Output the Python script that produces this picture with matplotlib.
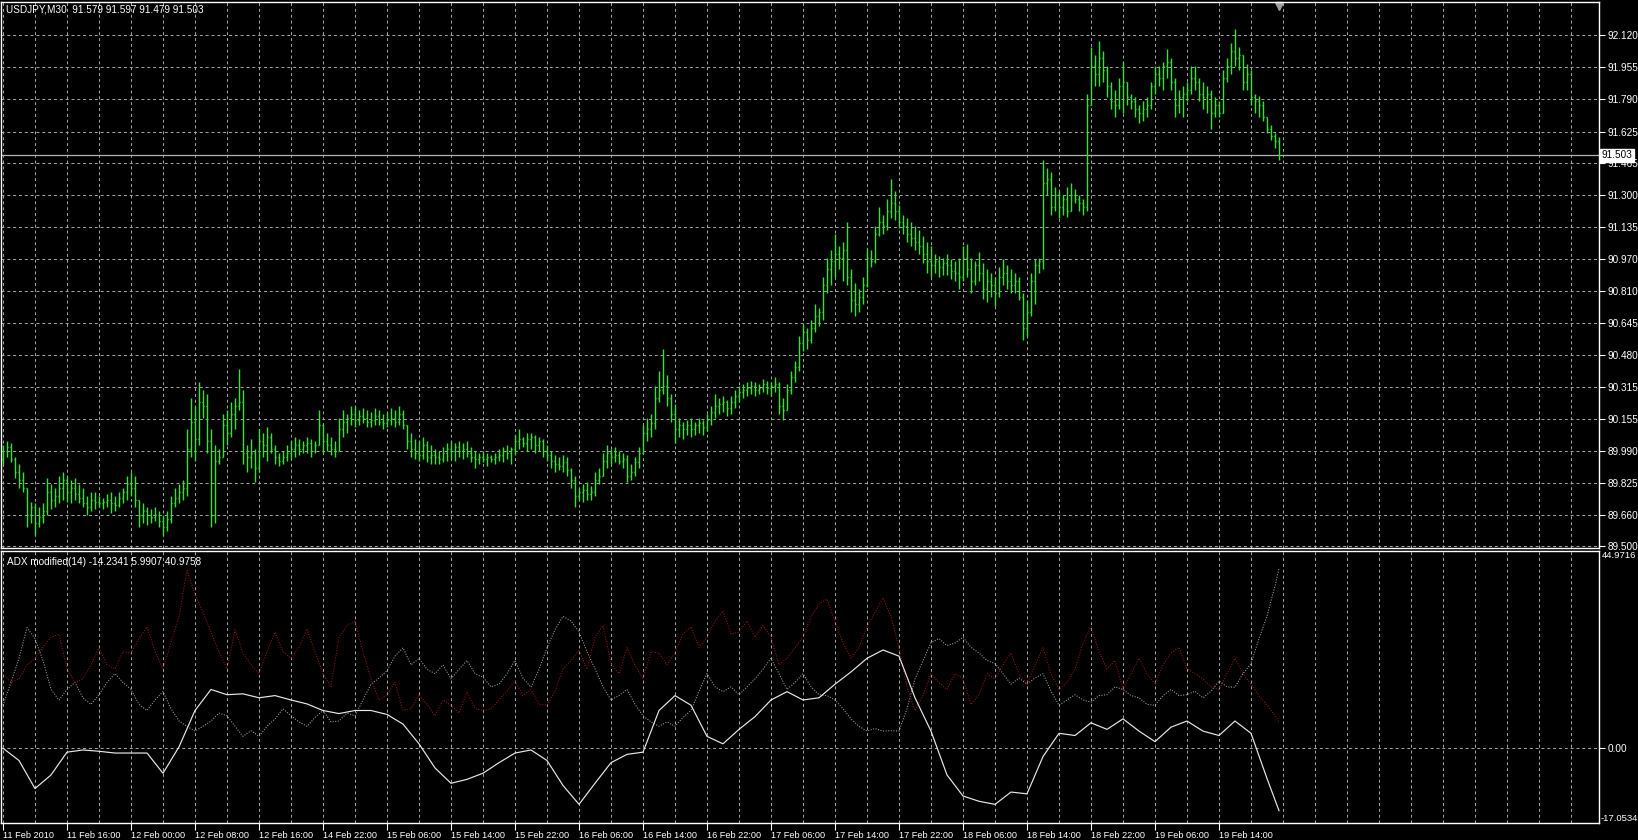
import numpy as np
import matplotlib.pyplot as plt
from matplotlib.transforms import blended_transform_factory

# USDJPY M30 bars (open of each bar = previous close)
first_open = 89.95
bar_high = [
    90.02, 90.04, 90.03, 89.96, 89.92, 89.88, 89.80, 89.73, 89.72, 89.70,
    89.72, 89.85, 89.82, 89.80, 89.86, 89.88, 89.86, 89.84, 89.85, 89.82,
    89.80, 89.76, 89.78, 89.78, 89.76, 89.75, 89.77, 89.78, 89.76, 89.78,
    89.80, 89.86, 89.88, 89.86, 89.74, 89.72, 89.70, 89.69, 89.70, 89.68,
    89.66, 89.68, 89.76, 89.80, 89.82, 89.84, 90.10, 90.26, 90.22, 90.34,
    90.30, 90.28, 90.10, 90.02, 90.00, 90.18, 90.20, 90.24, 90.26, 90.41,
    90.30, 90.02, 90.05, 90.00, 90.10, 90.08, 90.11, 90.08, 90.02, 89.98,
    89.99, 90.02, 90.04, 90.06, 90.05, 90.04, 90.06, 90.05, 90.04, 90.20,
    90.11, 90.08, 90.06, 90.04, 90.16, 90.20, 90.18, 90.22, 90.22, 90.20,
    90.21, 90.20, 90.19, 90.21, 90.20, 90.18, 90.19, 90.21, 90.20, 90.22,
    90.20, 90.12, 90.08, 90.05, 90.04, 90.06, 90.04, 90.02, 90.00, 89.99,
    90.01, 90.03, 90.04, 90.03, 90.04, 90.03, 90.04, 90.01, 89.99, 89.98,
    89.99, 89.98, 89.97, 89.98, 90.00, 90.01, 90.02, 90.01, 90.07, 90.10,
    90.06, 90.08, 90.08, 90.07, 90.06, 90.05, 90.02, 89.99, 89.97, 89.96,
    89.97, 89.96, 89.90, 89.86, 89.80, 89.82, 89.83, 89.81, 89.88, 89.90,
    89.98, 90.02, 90.00, 90.01, 89.99, 89.98, 89.97, 89.92, 89.96, 90.01,
    90.12, 90.16, 90.18, 90.32, 90.40, 90.51, 90.38, 90.28, 90.23, 90.16,
    90.14, 90.15, 90.16, 90.14, 90.16, 90.15, 90.18, 90.22, 90.28, 90.26,
    90.27, 90.25, 90.27, 90.30, 90.32, 90.33, 90.34, 90.35, 90.34, 90.33,
    90.36, 90.35, 90.34, 90.37, 90.34, 90.26, 90.33, 90.40, 90.45, 90.58,
    90.64, 90.62, 90.66, 90.74, 90.72, 90.88, 90.98, 91.02, 91.10, 91.04,
    91.06, 91.16, 90.92, 90.85, 90.82, 90.88, 91.03, 91.02, 91.14, 91.24,
    91.20, 91.28, 91.38, 91.32, 91.25, 91.20, 91.18, 91.16, 91.14, 91.12,
    91.09, 91.06, 91.04, 91.00, 90.99, 90.98, 91.00, 90.97, 90.96, 90.98,
    91.04, 91.05, 90.98, 90.96, 91.01, 90.95, 90.92, 90.90, 90.88, 90.93,
    90.97, 90.94, 90.92, 90.90, 90.88, 90.80, 90.76, 90.90, 90.97, 90.98,
    91.48, 91.44, 91.42, 91.34, 91.32, 91.30, 91.34, 91.36, 91.33, 91.30,
    91.28, 91.82, 92.06, 92.02, 92.09, 92.04, 91.96, 91.88, 91.84, 91.90,
    91.98, 91.86, 91.82, 91.80, 91.76, 91.78, 91.80, 91.88, 91.96, 91.96,
    91.98, 92.05, 92.00, 91.90, 91.84, 91.86, 91.88, 91.96, 91.96, 91.90,
    91.88, 91.86, 91.84, 91.80, 91.78, 91.94, 92.00, 92.08, 92.15, 92.06,
    92.02, 91.97, 91.94, 91.82, 91.81, 91.78, 91.70, 91.66, 91.62, 91.597,
]
bar_low = [
    89.92, 89.96, 89.93, 89.85, 89.80, 89.78, 89.60, 89.62, 89.56, 89.60,
    89.62, 89.66, 89.69, 89.70, 89.72, 89.74, 89.73, 89.72, 89.74, 89.72,
    89.70, 89.66, 89.68, 89.69, 89.70, 89.69, 89.70, 89.67, 89.68, 89.70,
    89.72, 89.74, 89.76, 89.70, 89.60, 89.62, 89.61, 89.62, 89.63, 89.60,
    89.56, 89.58, 89.62, 89.70, 89.72, 89.74, 89.76, 89.96, 89.94, 90.02,
    90.16, 89.98, 89.60, 89.62, 89.92, 89.96, 90.02, 90.06, 90.10, 90.20,
    89.92, 89.88, 89.90, 89.83, 89.88, 89.96, 89.94, 89.98, 89.92, 89.91,
    89.92, 89.94, 89.95, 89.96, 89.97, 89.98, 89.98, 89.96, 89.98, 90.02,
    89.98, 89.99, 89.97, 89.96, 90.00, 90.06, 90.08, 90.12, 90.11, 90.12,
    90.13, 90.11, 90.11, 90.12, 90.12, 90.10, 90.11, 90.12, 90.11, 90.12,
    90.10, 90.00, 89.96, 89.95, 89.94, 89.95, 89.93, 89.92, 89.92, 89.92,
    89.93, 89.94, 89.95, 89.94, 89.96, 89.95, 89.96, 89.93, 89.90, 89.92,
    89.93, 89.91, 89.93, 89.92, 89.94, 89.93, 89.95, 89.92, 89.97, 90.00,
    90.01, 89.99, 90.00, 89.98, 89.99, 89.96, 89.94, 89.90, 89.88, 89.89,
    89.88, 89.86, 89.80, 89.70, 89.74, 89.73, 89.74, 89.74, 89.76, 89.82,
    89.86, 89.90, 89.92, 89.93, 89.92, 89.90, 89.83, 89.84, 89.86, 89.90,
    89.98, 90.04, 90.06, 90.10, 90.24, 90.28, 90.22, 90.14, 90.03, 90.06,
    90.05, 90.07, 90.06, 90.07, 90.08, 90.07, 90.09, 90.12, 90.16, 90.18,
    90.19, 90.17, 90.18, 90.21, 90.24, 90.26, 90.27, 90.28, 90.27, 90.28,
    90.29, 90.28, 90.27, 90.29, 90.18, 90.15, 90.20, 90.28, 90.34, 90.40,
    90.50, 90.51, 90.54, 90.60, 90.63, 90.66, 90.80, 90.84, 90.88, 90.92,
    90.86, 90.84, 90.70, 90.68, 90.70, 90.74, 90.83, 90.93, 90.95, 91.09,
    91.10, 91.12, 91.18, 91.17, 91.13, 91.10, 91.06, 91.04, 91.02, 91.00,
    90.95, 90.90, 90.88, 90.90, 90.88, 90.89, 90.89, 90.87, 90.86, 90.82,
    90.86, 90.88, 90.80, 90.84, 90.86, 90.77, 90.75, 90.78, 90.73, 90.78,
    90.84, 90.82, 90.80, 90.80, 90.76, 90.56, 90.58, 90.68, 90.74, 90.90,
    90.92, 91.30, 91.20, 91.22, 91.18, 91.20, 91.19, 91.24, 91.26, 91.22,
    91.20, 91.22, 91.76, 91.86, 91.86, 91.88, 91.80, 91.74, 91.70, 91.74,
    91.72, 91.76, 91.74, 91.70, 91.67, 91.68, 91.70, 91.74, 91.82, 91.86,
    91.84, 91.90, 91.84, 91.70, 91.72, 91.70, 91.78, 91.82, 91.84, 91.78,
    91.74, 91.72, 91.64, 91.70, 91.70, 91.72, 91.88, 91.92, 91.96, 91.94,
    91.84, 91.84, 91.76, 91.72, 91.70, 91.68, 91.62, 91.58, 91.54, 91.479,
]
bar_close = [
    89.99, 90.01, 89.95, 89.88, 89.84, 89.80, 89.66, 89.70, 89.62, 89.65,
    89.68, 89.78, 89.74, 89.76, 89.80, 89.84, 89.78, 89.80, 89.77, 89.75,
    89.72, 89.70, 89.74, 89.73, 89.72, 89.73, 89.74, 89.72, 89.71, 89.75,
    89.78, 89.82, 89.80, 89.74, 89.66, 89.68, 89.66, 89.65, 89.66, 89.63,
    89.60, 89.64, 89.72, 89.75, 89.78, 89.80, 90.00, 90.14, 90.05, 90.24,
    90.22, 90.04, 89.66, 89.94, 89.96, 90.12, 90.08, 90.18, 90.22, 90.24,
    89.98, 89.96, 89.98, 89.90, 90.04, 90.02, 90.06, 90.00, 89.96, 89.94,
    89.96, 89.98, 90.00, 90.02, 90.00, 90.02, 90.03, 89.99, 90.02, 90.12,
    90.04, 90.02, 90.00, 89.99, 90.10, 90.14, 90.16, 90.18, 90.15, 90.17,
    90.16, 90.14, 90.15, 90.17, 90.14, 90.13, 90.15, 90.16, 90.14, 90.18,
    90.12, 90.04, 90.00, 89.98, 89.97, 90.02, 89.96, 89.97, 89.96, 89.95,
    89.98, 90.00, 89.99, 90.01, 89.99, 90.00, 89.98, 89.96, 89.95, 89.96,
    89.95, 89.96, 89.95, 89.96, 89.97, 89.99, 89.98, 90.00, 90.04, 90.05,
    90.03, 90.05, 90.06, 90.02, 90.04, 89.99, 89.97, 89.94, 89.92, 89.91,
    89.93, 89.89, 89.84, 89.76, 89.78, 89.79, 89.77, 89.78, 89.84, 89.86,
    89.94, 89.98, 89.96, 89.97, 89.94, 89.95, 89.86, 89.88, 89.93, 89.98,
    90.08, 90.10, 90.13, 90.26, 90.30, 90.32, 90.26, 90.18, 90.10, 90.12,
    90.10, 90.12, 90.10, 90.12, 90.13, 90.11, 90.15, 90.19, 90.22, 90.23,
    90.24, 90.21, 90.24, 90.27, 90.29, 90.30, 90.31, 90.32, 90.30, 90.31,
    90.33, 90.31, 90.32, 90.33, 90.22, 90.20, 90.30, 90.37, 90.42, 90.54,
    90.60, 90.56, 90.62, 90.68, 90.70, 90.84, 90.92, 90.96, 91.00, 90.98,
    91.02, 90.88, 90.76, 90.74, 90.78, 90.84, 90.98, 90.96, 91.10, 91.16,
    91.14, 91.22, 91.26, 91.22, 91.16, 91.14, 91.10, 91.08, 91.06, 91.04,
    91.00, 90.96, 90.94, 90.96, 90.93, 90.95, 90.94, 90.91, 90.90, 90.88,
    90.98, 90.92, 90.86, 90.94, 90.90, 90.82, 90.86, 90.84, 90.80, 90.88,
    90.90, 90.86, 90.84, 90.86, 90.78, 90.62, 90.70, 90.86, 90.94, 90.96,
    91.36, 91.38, 91.24, 91.30, 91.24, 91.28, 91.22, 91.30, 91.28, 91.26,
    91.24, 91.76, 91.96, 91.92, 92.00, 91.94, 91.86, 91.78, 91.76, 91.86,
    91.88, 91.80, 91.78, 91.74, 91.72, 91.74, 91.76, 91.86, 91.92, 91.90,
    91.96, 91.98, 91.88, 91.76, 91.80, 91.82, 91.84, 91.90, 91.88, 91.82,
    91.80, 91.82, 91.72, 91.76, 91.72, 91.90, 91.96, 92.04, 92.00, 92.02,
    91.88, 91.92, 91.80, 91.78, 91.76, 91.70, 91.64, 91.60, 91.579, 91.503,
]
last_price = 91.503

price_ticks = [92.120, 91.955, 91.790, 91.625, 91.465, 91.300, 91.135, 90.970,
               90.810, 90.645, 90.480, 90.315, 90.155, 89.990, 89.825, 89.660, 89.500]
price_range = (89.492, 92.289)

time_labels = ["11 Feb 2010", "11 Feb 16:00", "12 Feb 00:00", "12 Feb 08:00", "12 Feb 16:00",
               "14 Feb 22:00", "15 Feb 06:00", "15 Feb 14:00", "15 Feb 22:00", "16 Feb 06:00",
               "16 Feb 14:00", "16 Feb 22:00", "17 Feb 06:00", "17 Feb 14:00", "17 Feb 22:00",
               "18 Feb 06:00", "18 Feb 14:00", "18 Feb 22:00", "19 Feb 06:00", "19 Feb 14:00"]

# ADX modified(14): main line read every 4 bars, dotted lines every 2 bars, plus the last bar
main_bars = list(range(0, 320, 4)) + [319]
adx_main = [
    -0.0, -2.8, -9.2, -6.1, -0.9, -0.4, -0.7, -1.1, -1.1, -1.1,
    -5.7, 0.3, 8.6, 13.4, 12.2, 12.4, 11.5, 12.0, 11.0, 10.1,
    8.6, 7.9, 8.6, 8.6, 7.7, 5.5, 1.0, -4.5, -8.0, -7.1,
    -5.7, -3.3, -1.1, -0.4, -2.8, -8.5, -12.8, -8.0, -3.3, -1.4,
    -0.9, 8.6, 12.0, 9.8, 2.7, 1.0, 4.3, 7.2, 11.0, 12.9,
    11.0, 11.5, 14.6, 17.4, 20.5, 22.4, 21.0, 11.5, 3.9, -6.1,
    -10.9, -12.1, -12.8, -10.0, -10.4, -1.9, 3.4, 2.9, 5.8, 4.3,
    6.7, 3.9, 1.5, 4.8, 6.2, 3.9, 2.9, 6.2, 3.4, -6.9,
    -14.2341,
]
dot_bars = list(range(0, 320, 2)) + [319]
adx_red = [
    17.0, 15.0, 15.8, 19.0, 20.5, 23.0, 25.3, 26.0, 18.1, 15.0,
    15.8, 19.0, 22.9, 19.0, 18.1, 22.0, 21.7, 25.0, 27.7, 22.0,
    18.1, 24.0, 30.1, 40.5, 35.0, 31.0, 26.5, 22.0, 18.1, 27.0,
    21.7, 19.0, 17.0, 22.0, 26.5, 22.0, 20.5, 23.0, 27.2, 22.0,
    17.0, 14.0, 25.3, 28.0, 28.9, 22.0, 15.8, 11.0, 12.2, 15.0,
    8.6, 9.0, 12.2, 10.0, 7.4, 11.0, 9.8, 8.0, 12.9, 9.0,
    8.6, 9.0, 11.0, 13.0, 15.3, 12.0, 13.4, 10.0, 9.8, 13.0,
    18.1, 20.0, 22.4, 18.0, 25.3, 28.0, 19.3, 17.0, 22.9, 19.0,
    15.8, 22.0, 21.7, 19.0, 21.7, 26.0, 27.7, 23.0, 25.3, 29.0,
    31.3, 26.0, 26.5, 29.0, 25.3, 28.0, 25.3, 19.0, 20.5, 23.0,
    25.3, 30.0, 32.9, 34.0, 28.9, 24.0, 20.5, 23.0, 27.7, 31.0,
    34.3, 30.0, 22.9, 14.0, 8.6, 12.0, 17.0, 15.0, 13.4, 17.0,
    15.8, 10.0, 12.2, 17.0, 15.8, 19.0, 21.7, 17.0, 14.6, 19.0,
    22.9, 17.0, 13.4, 15.0, 18.1, 24.0, 27.7, 22.0, 18.1, 20.0,
    13.4, 17.0, 20.5, 17.0, 14.6, 19.0, 21.7, 23.0, 18.1, 17.0,
    15.8, 14.0, 13.4, 17.0, 20.5, 17.0, 14.6, 12.0, 9.8, 7.5,
    5.9907,
]
adx_gray = [
    9.8, 15.0, 20.5, 27.5, 25.0, 20.0, 13.4, 11.0, 13.4, 15.0,
    11.5, 10.0, 12.2, 15.0, 17.0, 15.0, 13.4, 10.0, 8.6, 11.0,
    12.9, 9.0, 6.2, 5.0, 3.9, 5.0, 6.2, 8.0, 7.4, 5.0,
    2.7, 4.0, 2.7, 5.0, 6.7, 9.0, 7.4, 6.0, 5.0, 7.0,
    8.6, 6.0, 6.2, 8.0, 7.4, 11.0, 14.6, 16.0, 17.7, 21.0,
    22.9, 19.0, 20.5, 18.0, 17.0, 19.0, 15.8, 18.0, 20.0, 17.0,
    16.2, 14.0, 14.6, 17.0, 20.0, 16.0, 13.9, 18.0, 22.9, 27.0,
    30.1, 29.0, 26.5, 22.0, 18.1, 14.0, 11.0, 12.0, 13.4, 10.0,
    7.4, 6.0, 5.0, 6.0, 5.0, 7.0, 8.6, 13.0, 17.0, 14.0,
    12.9, 14.0, 12.2, 14.0, 15.8, 18.0, 20.5, 17.0, 13.4, 15.0,
    17.0, 14.0, 12.2, 12.0, 11.0, 9.0, 6.7, 5.0, 3.9, 4.5,
    3.9, 4.0, 3.9, 9.0, 15.8, 20.0, 24.1, 25.0, 23.4, 24.0,
    25.3, 23.0, 21.7, 20.0, 19.3, 17.0, 14.6, 16.0, 14.6, 16.0,
    17.0, 13.0, 9.8, 11.0, 12.2, 11.0, 10.5, 12.0, 12.2, 14.0,
    13.4, 12.0, 11.5, 10.0, 9.8, 12.0, 13.4, 12.0, 12.2, 13.0,
    11.5, 13.0, 15.3, 14.0, 13.9, 17.0, 19.3, 25.0, 30.1, 37.0,
    40.9758,
]
adx_max, adx_min = 44.9716, -17.0534

W, H = 1638, 840
fig = plt.figure(figsize=(W / 100, H / 100), dpi=100, facecolor="black")
plt.rcParams["font.family"] = ["Liberation Sans", "DejaVu Sans"]
fs = 7.2
fs_x = 6.6
grid_kw = dict(color="#a8a8a8", lw=0.7, linestyle=(0, (3, 3)), zorder=0)

ax1 = fig.add_axes([1 / W, 1 - 548 / H, 1598 / W, 546 / H], facecolor="black")
ax2 = fig.add_axes([1 / W, 1 - 823 / H, 1598 / W, 272 / H], facecolor="black")
xmax = -0.5 + 1598 / 4

for ax in (ax1, ax2):
    ax.set_xlim(-0.5, xmax)
    for sp in ax.spines.values():
        sp.set_color("white")
        sp.set_linewidth(1)
    for b in range(0, 400, 8):
        ax.axvline(b, **grid_kw)
    ax.yaxis.tick_right()
    ax.tick_params(axis="y", colors="white", length=4, width=0.8, labelsize=fs, pad=2)

# price bars
n = len(bar_close)
x = np.arange(n)
close = np.array(bar_close)
opens = np.concatenate([[first_open], close[:-1]])
high = np.maximum.reduce([np.array(bar_high), opens, close])
low = np.minimum.reduce([np.array(bar_low), opens, close])
green = "#2ee62e"
ax1.vlines(x, low, high, color=green, lw=1.0)
ax1.hlines(opens, x - 0.3, x, color=green, lw=1.0)
ax1.hlines(close, x, x + 0.3, color=green, lw=1.0)

ax1.set_ylim(*price_range)
ax1.set_yticks(price_ticks)
ax1.set_yticklabels([f"{p:.3f}" for p in price_ticks])
for p in price_ticks:
    ax1.axhline(p, **grid_kw)
ax1.set_xticks([])
ax1.axhline(last_price, color="#b4b4b4", lw=0.9, zorder=1)
tr1 = blended_transform_factory(ax1.transAxes, ax1.transData)
ax1.text(1.0015, last_price, f"{last_price:.3f}", transform=tr1, ha="left", va="center",
         fontsize=fs, color="black", zorder=5, clip_on=False,
         bbox=dict(boxstyle="square,pad=0.15", fc="white", ec="white"))
ax1.plot([n - 1], [0.993], marker="v", color="#a0a0a0", ms=6,
         transform=blended_transform_factory(ax1.transData, ax1.transAxes), clip_on=False)

# ADX panel
ax2.set_ylim(adx_min, adx_max)
ax2.axhline(0, **grid_kw)
ax2.plot(dot_bars, adx_gray, color="#a4a4a4", lw=0.75, linestyle=(0, (1.0, 1.5)))
ax2.plot(dot_bars, adx_red, color="#9c1616", lw=0.75, linestyle=(0, (1.0, 1.5)))
ax2.plot(main_bars, adx_main, color="#e8e8e8", lw=0.85)
ax2.set_yticks([0])
ax2.set_yticklabels(["0.00"])
tr2 = blended_transform_factory(ax2.transAxes, ax2.transData)
ax2.text(1.002, adx_max, f"{adx_max:.4f}", transform=tr2, ha="left", va="top",
         fontsize=6.8, color="white", clip_on=False)
ax2.text(1.001, adx_min, f"{adx_min:.4f}", transform=tr2, ha="left", va="bottom",
         fontsize=6.8, color="white", clip_on=False)

ax2.set_xticks(range(0, 16 * len(time_labels), 16))
ax2.set_xticklabels(time_labels)
ax2.tick_params(axis="x", colors="white", length=5, width=0.8, labelsize=fs_x, pad=1)
for lbl in ax2.get_xticklabels():
    lbl.set_ha("left")

fig.text(6 / W, 1 - 10 / H, "USDJPY,M30  91.579 91.597 91.479 91.503", color="white",
         fontsize=fs, va="center", ha="left")
fig.text(7 / W, 1 - 562 / H, "ADX modified(14) -14.2341 5.9907 40.9758", color="white",
         fontsize=fs, va="center", ha="left")

fig.savefig("out.png", dpi=100, facecolor="black")
